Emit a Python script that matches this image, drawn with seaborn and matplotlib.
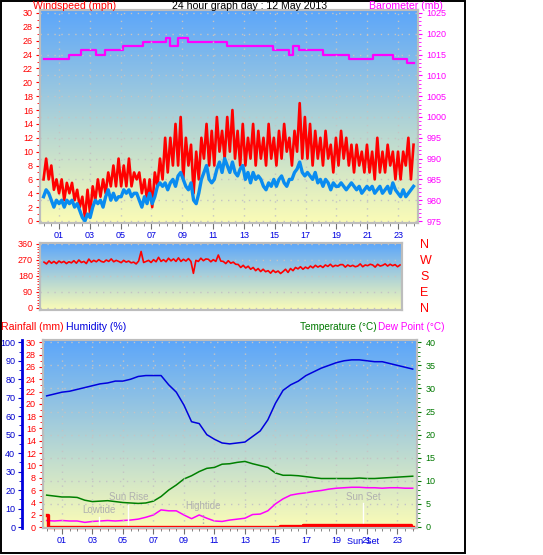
import numpy as np
import pandas as pd
import matplotlib
matplotlib.use("Agg")
import matplotlib.pyplot as plt
from matplotlib.ticker import MultipleLocator, FixedLocator
from matplotlib.colors import LinearSegmentedColormap
from matplotlib.patches import Rectangle
import matplotlib.transforms as mtrans
import seaborn as sns

plt.rcParams['font.family'] = ['Liberation Sans', 'DejaVu Sans']

# ---- data (12 May 2013) ----
# wind, every 10 minutes
gust_mph = [6, 9, 6, 8, 4.5, 6, 4, 6, 3, 5.5, 4, 5.5,
            3, 4.5, 2, 3.5, 0.5, 4.5, 1, 5, 3, 6, 3.5, 6,
            4, 7, 5, 8, 5, 9, 5, 8, 5, 9, 5, 7,
            6, 7, 4, 6, 3, 6, 2, 7, 5, 9, 6, 12,
            7, 12, 8, 14, 8, 15, 6, 12, 8, 11, 4, 10,
            6, 12, 9, 14, 8, 13, 8, 15, 10, 13, 9, 15,
            10, 16, 9, 13, 8, 14, 8, 12, 9, 14, 8, 13,
            9, 12, 8, 14, 9, 12, 8, 13, 9, 14, 10, 12,
            8, 13, 10, 17, 9, 15, 9, 14, 8, 13, 9, 12,
            8, 13, 9, 11, 7, 12, 8, 13, 9, 12, 8, 11,
            7, 11, 8, 10, 7, 11, 7, 10, 6, 12, 7, 10,
            7, 11, 8, 10, 6, 10, 6, 10, 8, 12, 6, 11]
avg_mph = [3.5, 4.5, 4, 3, 2, 3, 2.5, 3, 2, 3, 2.5, 3,
           2, 2.5, 1.5, 0.5, 0, 1, 0.5, 2, 3, 2.5, 3, 2,
           3.5, 4.5, 3, 4, 3, 3.5, 3.5, 4.5, 4, 4.5, 3.5, 4,
           4, 3, 2, 3.5, 2.5, 4, 2.5, 3.5, 5, 5.5, 5, 5.5,
           4.5, 5.5, 6, 5, 6.5, 7, 6, 5, 4.5, 5.5, 3, 2.5,
           4, 6, 7, 8, 6, 5.5, 6, 7.5, 8.5, 7, 9, 8,
           7, 8.5, 7, 6.5, 7.5, 8, 6, 7, 5.5, 7, 6, 6.5,
           6, 5, 4.5, 5.5, 5, 6, 5, 6, 6.5, 5.5, 5, 6,
           6, 7, 7.5, 8.5, 7, 6.5, 7, 6.5, 6, 7, 5.5, 6,
           5, 6, 5.5, 4.5, 5.5, 5, 5, 5.5, 5, 4.5, 5, 5.5,
           5, 4.5, 5, 4, 4.5, 5, 4.5, 5, 4, 4.5, 5, 4,
           4.5, 5, 4, 5.5, 4.5, 4, 3.5, 4.5, 3.5, 4, 4.5, 5]
wind_dir = [258, 248, 265, 252, 262, 250, 264, 255, 262, 250, 260, 254,
            266, 252, 270, 256, 262, 250, 275, 258, 268, 260, 272, 262,
            258, 270, 262, 276, 260, 268, 262, 255, 268, 258, 264, 254,
            258, 248, 264, 318, 256, 262, 268, 256, 272, 260, 285, 262,
            272, 260, 280, 265, 276, 262, 282, 262, 274, 264, 278, 262,
            195, 268, 262, 280, 266, 276, 274, 260, 272, 262, 298, 264,
            262, 250, 266, 252, 258, 246, 245, 228, 240, 225, 235, 218,
            228, 210, 222, 205, 218, 204, 210, 196, 212, 200, 208, 194,
            205, 218, 200, 222, 210, 228, 220, 232, 218, 230, 222, 236,
            226, 240, 230, 238, 228, 242, 234, 246, 232, 240, 236, 244,
            244, 230, 242, 234, 240, 232, 236, 248, 232, 242, 238, 246,
            242, 230, 246, 236, 240, 248, 236, 246, 238, 244, 232, 242]
wind_hours = np.linspace(0, 24, len(gust_mph))

# barometer steps
baro_hours = [0, 1.65, 2.43, 3.4, 3.98, 5.17, 6.43, 7.92, 8.2, 8.7, 9.39,
              11.88, 14.9, 15.9, 16.2, 16.6, 18.15, 19.8, 21.4, 22.65, 23.6, 24]
baro_mb = [1014, 1015, 1016, 1015, 1016, 1017, 1018, 1019, 1017, 1019, 1018,
           1017, 1016, 1015, 1017, 1016, 1015, 1014, 1015, 1014, 1013, 1013]

# every 30 minutes
humidity = [71, 72, 73, 73.5, 74.5, 75.5, 76.5, 77.5, 78, 79, 79, 80, 81.5,
            82, 82, 82, 77, 73, 66, 57, 56, 50, 47.5, 45.5, 45, 45.5, 46,
            49, 52, 58, 67, 74, 77, 79, 82, 84, 86, 87.5, 89, 90, 90.5,
            90.5, 90, 89.5, 89.5, 88.5, 87.5, 86.5, 85.5]
temperature = [6.9, 6.7, 6.5, 6.5, 6.4, 5.8, 5.5, 5.6, 5.7, 5.5, 5.3, 5.2,
               5.1, 5.2, 5.6, 6.6, 8.0, 9.1, 10.4, 11.1, 12.0, 12.7, 12.9,
               13.6, 13.7, 14.0, 14.2, 13.7, 13.3, 12.9, 11.7, 11.2, 11.2,
               11.1, 10.9, 10.7, 10.5, 10.5, 10.5, 10.5, 10.5, 10.6, 10.5,
               10.5, 10.6, 10.7, 10.8, 10.9, 11.0]
dew_point = [1.4, 1.3, 1.4, 1.3, 1.3, 1.0, 1.2, 1.3, 1.4, 1.3, 1.4, 1.5, 1.7,
             2.1, 2.6, 3.7, 3.5, 3.5, 2.6, 1.8, 2.6, 1.9, 1.3, 1.2, 1.5, 1.7,
             1.9, 2.7, 2.8, 3.5, 5.0, 6.1, 6.9, 7.2, 7.4, 7.7, 7.9, 8.2, 8.4,
             8.5, 8.6, 8.6, 8.5, 8.5, 8.4, 8.5, 8.5, 8.4, 8.4]
half_hours = np.arange(len(humidity)) * 0.5

rain_hours = [0, 0.1, 15.3, 16.8, 23.9, 24]
rain_mm = [2.0, 0.0, 0.2, 0.4, 0.0, 0.0]

event_hours = [3.4, 5.35, 10.25, 20.76]
event_labels = ['Lowtide', 'Sun Rise', 'Hightide', 'Sun Set']

hour_labels = ['%02d' % h for h in range(1, 24, 2)]
dir_ticks = [0, 90, 180, 270, 360]
dir_labels = ['N', 'E', 'S', 'W', 'N']

# ---- layout helpers ----
W, H = 543, 555
fig = plt.figure(figsize=(W / 100, H / 100), dpi=100)

RED, MAG, GREEN, TICKBLUE = '#ff0000', '#ff00ff', '#007800', '#0000e0'
GRID = '#c4c4c4'
sky = LinearSegmentedColormap.from_list('sky', ['#5ca6fa', '#fbfcb6'])


def rect(l, t, r, b):
    return [l / W, 1 - b / H, (r - l) / W, (b - t) / H]


def panel(box):
    bg = fig.add_axes(box)
    bg.imshow(np.linspace(0, 1, 256).reshape(-1, 1), cmap=sky, aspect='auto')
    bg.axis('off')
    bg.set_zorder(0)
    ax = fig.add_axes(box)
    ax.patch.set_visible(False)
    return ax


def frame(ax):
    for s in ax.spines.values():
        s.set_color('#bdbdbd')
        s.set_linewidth(1.5)


def y_ticks(ax, major, minor, color, pad=2):
    ax.yaxis.set_major_locator(MultipleLocator(major))
    ax.yaxis.set_minor_locator(MultipleLocator(minor))
    ax.tick_params(axis='y', which='both', colors=color, labelsize=6.5, pad=pad)
    ax.tick_params(axis='y', which='major', length=3)
    ax.tick_params(axis='y', which='minor', length=2)


def time_axis(ax):
    ax.xaxis.set_major_locator(FixedLocator(range(1, 24, 2)))
    ax.xaxis.set_minor_locator(MultipleLocator(0.5))
    ax.set_xticklabels(hour_labels)
    ax.tick_params(axis='x', which='major', length=4, color='#707070',
                   labelcolor=TICKBLUE, labelsize=6.5, pad=2)
    ax.tick_params(axis='x', which='minor', length=2, color='#707070')


dots = dict(color=GRID, ls=(0, (1, 4)), lw=1)

# ---- top: wind speed + barometer ----
ax1 = panel(rect(40, 10, 418, 223))
ax1b = ax1.twinx()
ax1b.set_zorder(1)
ax1.set_zorder(2)

sns.lineplot(x=baro_hours, y=baro_mb, ax=ax1b, color=MAG, lw=1.6,
             drawstyle='steps-post', errorbar=None)
sns.lineplot(x=wind_hours, y=gust_mph, ax=ax1, color=RED, lw=1.9, errorbar=None)
sns.lineplot(x=wind_hours, y=avg_mph, ax=ax1, color='#0a8cf0', lw=2.4, errorbar=None)

ax1.set_xlim(-0.23, 24.29)
ax1.set_ylim(-0.29, 30.43)
ax1b.set_ylim(974.52, 1025.72)
y_ticks(ax1, 2, 1, RED)
y_ticks(ax1b, 5, 1, MAG, pad=3)
time_axis(ax1)
ax1.grid(axis='x', **dots)
ax1.set_axisbelow(True)
ax1b.grid(axis='y', **dots)
for a in (ax1, ax1b):
    frame(a)
    a.set_xlabel('')
    a.set_ylabel('')

# ---- middle: wind direction ----
ax2 = panel(rect(40, 243, 402, 310))
sns.lineplot(x=wind_hours, y=wind_dir, ax=ax2, color=RED, lw=1.2, errorbar=None)
ax2.set_xlim(-0.27, 24.13)
ax2.set_ylim(-11.25, 365.6)
y_ticks(ax2, 90, 15, RED)
ax2.set_xticks([])
ax2.grid(axis='y', **dots)
ax2.set_axisbelow(True)
ax2c = ax2.twinx()
ax2c.set_ylim(ax2.get_ylim())
ax2c.set_yticks(dir_ticks)
ax2c.set_yticklabels(dir_labels)
ax2c.tick_params(axis='y', length=0, pad=13, labelsize=9, labelcolor=RED)
for a in (ax2, ax2c):
    frame(a)
    a.set_xlabel('')
    a.set_ylabel('')

# ---- bottom: rain, humidity, temperature, dew point ----
ax3 = panel(rect(43, 340, 417, 528))
ax3t = ax3.twinx()
ax3h = ax3.twinx()
ax3t.set_zorder(1)
ax3.set_zorder(2)
ax3h.set_zorder(3)

ax3.set_xlim(-0.24, 24.28)
ax3.set_ylim(-0.16, 30.37)
ax3h.set_ylim(-0.54, 101.25)
ax3t.set_ylim(-0.22, 40.5)

sns.lineplot(x=half_hours, y=temperature, ax=ax3t, color='#008000', lw=1.1, errorbar=None)
sns.lineplot(x=half_hours, y=dew_point, ax=ax3t, color=MAG, lw=1.1, errorbar=None)
sns.lineplot(x=half_hours, y=humidity, ax=ax3h, color='#0000dd', lw=1.1, errorbar=None)
sns.lineplot(x=rain_hours, y=rain_mm, ax=ax3, color=RED, lw=2.4,
             drawstyle='steps-post', errorbar=None, clip_on=False)

# tide / sun markers
marker_tops = [2.2, 4.8, 3.0, 5.1]
marker_styles = ['-', '-', ':', '-']
marker_colors = ['white', 'white', '#a8a8a8', 'white']
label_y = [3.7, 6.4, 4.6, 6.4]
for hr, lab, top, st, col, ly in zip(event_hours, event_labels, marker_tops,
                                      marker_styles, marker_colors, label_y):
    ax3t.plot([hr, hr], [0, top], ls=st, color=col, lw=1)
    ax3t.text(hr, ly, lab, color='#b0b0b0', fontsize=7, ha='center', va='center')

y_ticks(ax3, 2, 1, RED)
ax3h.yaxis.set_ticks_position('left')
ax3h.yaxis.set_label_position('left')
ax3h.spines['left'].set_position(('outward', 15))
y_ticks(ax3h, 10, 5, '#0000cc')
y_ticks(ax3t, 5, 1, GREEN, pad=3)
ax3t.grid(axis='y', **dots)

time_axis(ax3)
ax3.grid(axis='x', **dots)
ax3.set_axisbelow(True)
ax3.text(event_hours[3], -0.07, 'Sun Set', color=TICKBLUE, fontsize=6.5,
         ha='center', va='center',
         transform=mtrans.blended_transform_factory(ax3.transData, ax3.transAxes))

for a in (ax3, ax3t, ax3h):
    frame(a)
    a.set_xlabel('')
    a.set_ylabel('')
ax3h.spines['left'].set_color('#0000dd')
ax3h.spines['left'].set_linewidth(2)
for s in ('right', 'top', 'bottom'):
    ax3h.spines[s].set_visible(False)

# ---- headings ----
def head(x, y, s, color, ha='left', size=7.6):
    fig.text(x / W, 1 - y / H, s, color=color, fontsize=size, ha=ha, va='center')

head(33, 6, 'Windspeed (mph)', RED)
head(250, 6, '24 hour graph day : 12 May 2013', 'black', 'center')
head(443, 6, 'Barometer (mb)', MAG, 'right')
head(1, 327, 'Rainfall (mm)', RED)
head(66, 327, 'Humidity (%)', '#0000dd')
head(300, 327, 'Temperature (°C)', GREEN, size=7.2)
head(444, 327, 'Dew Point (°C)', MAG, 'right', size=7.2)

fig.add_artist(Rectangle((0.8 / W, 1 - 553 / H), 464 / W, 552.5 / H,
                         fill=False, ec='black', lw=1.4, transform=fig.transFigure))

fig.savefig('out.png', dpi=100)
